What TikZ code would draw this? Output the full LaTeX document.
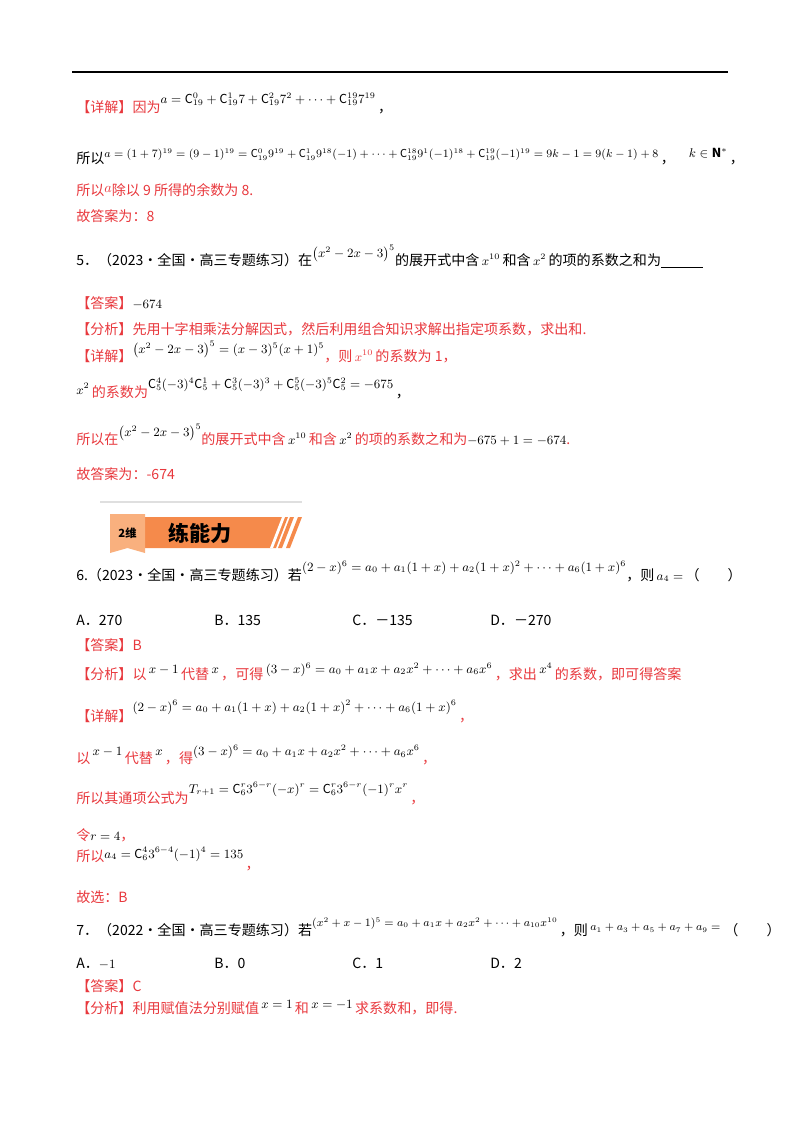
\documentclass[tikz,border=0pt]{standalone}
\usepackage{amsmath,amssymb}
\usepackage{fontspec}
\setmainfont{Noto Sans CJK SC}
\definecolor{rd}{HTML}{E8383D}
\definecolor{org}{HTML}{F58A4B}
\definecolor{lorg}{HTML}{F9B07E}
\newcommand{\R}[1]{\textcolor{rd}{#1}}
\newcommand{\M}[1]{{\fontsize{8.8}{10}\selectfont$#1$}}
\newcommand{\MT}[1]{{\fontsize{7.8}{9}\selectfont$#1$}}
\newcommand{\MS}[1]{{\fontsize{7.8}{9}\selectfont$#1$}}
\newcommand{\up}[2]{\raisebox{#1}{#2}}
\begin{document}
\begin{tikzpicture}[x=0.025cm,y=-0.025cm,
  t/.style={anchor=base west,inner sep=0pt,font=\fontsize{10}{12}\selectfont}]
\useasboundingbox (0,0) rectangle (800,1132);
\draw[line width=1.4pt] (72,72) -- (728,72);
% item 4 tail
\node[t] (l1) at (76,112) {\R{【详解】因为}\up{6pt}{\M{a=\mathrm{C}_{19}^{0}+\mathrm{C}_{19}^{1}7+\mathrm{C}_{19}^{2}7^{2}+\cdots+\mathrm{C}_{19}^{19}7^{19}}}\,，};
\node[t] (l2) at (76,163) {所以\up{4pt}{\MS{a=(1+7)^{19}=(9-1)^{19}=\mathrm{C}_{19}^{0}9^{19}+\mathrm{C}_{19}^{1}9^{18}(-1)+\cdots+\mathrm{C}_{19}^{18}9^{1}(-1)^{18}+\mathrm{C}_{19}^{19}(-1)^{19}=9k-1=9(k-1)+8}}\,，\quad\up{4pt}{\M{k\in\mathbf{N}^{*}}}\,，};
\node[t] (l3) at (76,195) {\R{所以\up{2pt}{$a$}除以 9 所得的余数为 8.}};
\node[t] (l4) at (76,221) {\R{故答案为：8}};
% item 5
\node[t] (q5) at (76,265) {5．（2023·全国·高三专题练习）在\up{5pt}{\M{\left(x^{2}-2x-3\right)^{5}}}的展开式中含\,\M{x^{10}}\,和含\,\M{x^{2}}\,的项的系数之和为\underline{\hspace{3em}}};
\node[t] (a5) at (76,308) {\R{【答案】}\M{-674}};
\node[t] (f5) at (76,334) {\R{【分析】先用十字相乘法分解因式，然后利用组合知识求解出指定项系数，求出和.}};
\node[t] (d5) at (76,361) {\R{【详解】}\up{5pt}{\M{\left(x^{2}-2x-3\right)^{5}=(x-3)^{5}(x+1)^{5}}}\R{，则\,\M{x^{10}}\,的系数为 1，}};
\node[t] (d6) at (76,397) {\up{2pt}{\M{x^{2}}}\,\R{的系数为}\up{6pt}{\M{\mathrm{C}_{5}^{4}(-3)^{4}\mathrm{C}_{5}^{1}+\mathrm{C}_{5}^{3}(-3)^{3}+\mathrm{C}_{5}^{5}(-3)^{5}\mathrm{C}_{5}^{2}=-675}}\,，};
\node[t] (d7) at (76,444) {\R{所以在\up{5pt}{\M{\color{black}\left(x^{2}-2x-3\right)^{5}}}的展开式中含\,\M{\color{black}x^{10}}\,和含\,\M{\color{black}x^{2}}\,的项的系数之和为}\M{-675+1=-674}\R{.}};
\node[t] (d8) at (76,479) {\R{故答案为：-674}};
% banner
\fill[gray!25] (100,501) rectangle (302,502.5);
\fill[org] (145,517) -- (288,517) -- (276,548) -- (145,548) -- cycle;
\fill[white] (270,548) -- (282,517) -- (285,517) -- (273,548) -- cycle;
\fill[org] (278,548) -- (290,517) -- (294,517) -- (282,548) -- cycle;
\fill[org] (286,548) -- (298,517) -- (302,517) -- (290,548) -- cycle;
\fill[lorg] (110,514) -- (145,514) -- (145,553) -- (127.5,548) -- (110,553) -- cycle;
\node[anchor=center,inner sep=0pt,font=\fontsize{8}{9}\selectfont\bfseries] (tag) at (127.5,533) {2维};
\node[anchor=center,inner sep=0pt,font=\fontsize{15}{16}\selectfont\bfseries] (bt) at (200,533) {练能力};
% item 6
\node[t] (q6) at (76,580) {6.（2023·全国·高三专题练习）若\up{6pt}{\M{(2-x)^{6}=a_{0}+a_{1}(1+x)+a_{2}(1+x)^{2}+\cdots+a_{6}(1+x)^{6}}}，则\,\M{a_{4}=}\,（　　）};
\node[t] (o1) at (76,625) {A．270};
\node[t] (o2) at (214,625) {B．135};
\node[t] (o3) at (352,625) {C．－135};
\node[t] (o4) at (490,625) {D．－270};
\node[t] (a6) at (76,650) {\R{【答案】B}};
\node[t] (f6) at (76,679) {\R{【分析】以\,\up{4pt}{\M{\color{black}x-1}}\,代替\,\up{4pt}{\M{\color{black}x}}\,，可得\,\up{4pt}{\M{\color{black}(3-x)^{6}=a_{0}+a_{1}x+a_{2}x^{2}+\cdots+a_{6}x^{6}}}\,，求出\,\up{4pt}{\M{\color{black}x^{4}}}\,的系数，即可得答案}};
\node[t] (d61) at (76,721) {\R{【详解】}\up{7pt}{\M{(2-x)^{6}=a_{0}+a_{1}(1+x)+a_{2}(1+x)^{2}+\cdots+a_{6}(1+x)^{6}}}\,\R{，}};
\node[t] (d62) at (76,763) {\R{以\,\up{5pt}{\M{\color{black}x-1}}\,代替\,\up{5pt}{\M{\color{black}x}}\,，得}\up{5pt}{\M{(3-x)^{6}=a_{0}+a_{1}x+a_{2}x^{2}+\cdots+a_{6}x^{6}}}\,\R{，}};
\node[t] (d63) at (76,803) {\R{所以其通项公式为}\up{7pt}{\M{T_{r+1}=\mathrm{C}_{6}^{r}3^{6-r}(-x)^{r}=\mathrm{C}_{6}^{r}3^{6-r}(-1)^{r}x^{r}}}\,\R{，}};
\node[t] (d64) at (76,840) {\R{令}\M{r=4}\R{，}};
\node[t] (d65) at (76,861) {\R{所以}\up{2pt}{\M{a_{4}=\mathrm{C}_{6}^{4}3^{6-4}(-1)^{4}=135}}\,\R{\raisebox{-6pt}{，}}};
\node[t] (d66) at (76,902) {\R{故选：B}};
% item 7
\node[t] (q7) at (76,935) {7．（2022·全国·高三专题练习）若\up{6pt}{\MT{(x^{2}+x-1)^{5}=a_{0}+a_{1}x+a_{2}x^{2}+\cdots+a_{10}x^{10}}}\,，则\,\up{3pt}{\MT{a_{1}+a_{3}+a_{5}+a_{7}+a_{9}=}}\;（　　）};
\node[t] (o5) at (76,968) {A．\M{-1}};
\node[t] (o6) at (214,968) {B．0};
\node[t] (o7) at (352,968) {C．1};
\node[t] (o8) at (490,968) {D．2};
\node[t] (a7) at (76,991) {\R{【答案】C}};
\node[t] (f7) at (76,1013) {\R{【分析】利用赋值法分别赋值\,\up{3pt}{\M{\color{black}x=1}}\,和\,\up{3pt}{\M{\color{black}x=-1}}\,求系数和，即得.}};
\end{tikzpicture}
\end{document}
